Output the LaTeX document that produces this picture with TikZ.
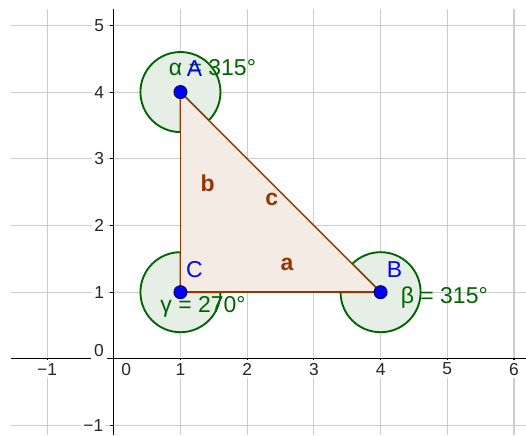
\documentclass[tikz,border=0pt]{standalone}
\usepackage{fontspec}
\setmainfont{Liberation Sans}
\usepackage{tikz}
\usepackage{xcolor}
\definecolor{anglegreen}{RGB}{0,100,0}
\definecolor{polybrown}{RGB}{153,51,0}
\definecolor{gridgray}{RGB}{204,204,204}
\tikzset{
  gridline/.style={gridgray, line width=0.45pt},
  axisline/.style={black, line width=0.45pt},
  ticklabel/.style={font=\fontsize{7.4}{8}\selectfont, text=black!85, fill=white, inner sep=1.2pt},
  anglesector/.style={draw=anglegreen, fill=anglegreen!10, line width=0.8pt},
  edge/.style={polybrown, line width=0.6pt},
  vertex/.style={circle, fill=blue, draw=blue!35!black, line width=0.4pt, inner sep=0pt, minimum size=1.95mm},
  ptlabel/.style={font=\fontsize{9.8}{11}\selectfont, text=blue, inner sep=0pt},
  anglelabel/.style={font=\fontsize{9.8}{11}\selectfont, text=anglegreen, inner sep=0pt},
  sidelabel/.style={font=\fontsize{9.8}{11}\selectfont\bfseries, text=polybrown, inner sep=0pt, anchor=base}
}

\begin{document}
\begin{tikzpicture}
\useasboundingbox (-1.705,-1.142) rectangle (6.18,5.38);
% grid and axes
\foreach \x in {-1,...,6} \draw[gridline] (\x,-1.142) -- (\x,5.245);
\foreach \y in {-1,...,5} \draw[gridline] (-1.54,\y) -- (6.18,\y);
\draw[axisline] (-1.54,0) -- (6.18,0);
\draw[axisline] (0,-1.142) -- (0,5.245);
\foreach \x in {-1,1,2,...,6} \draw[axisline] (\x,0) -- (\x,-0.06);
\foreach \y in {-1,1,2,...,5} \draw[axisline] (0,\y) -- (-0.06,\y);
\node[ticklabel] (xm1) at (-1,-0.153) {−1};
\foreach \x in {1,...,6} \node[ticklabel] (x\x) at (\x,-0.153) {\x};
\node[ticklabel] (x0) at (0.187,-0.153) {0};
\node[ticklabel] (ym1) at (-0.306,-1) {−1};
\foreach \y in {1,...,5} \node[ticklabel] (y\y) at (-0.217,\y) {\y};
\node[ticklabel] (y0) at (-0.223,0.124) {0};

\coordinate (A) at (1,4);
\coordinate (B) at (4,1);
\coordinate (C) at (1,1);

% angles
\draw[anglesector] (A) -- ++(-45:0.6) arc[start angle=-45, end angle=270, radius=0.6] -- cycle;
\draw[anglesector] (B) -- ++(180:0.6) arc[start angle=180, end angle=495, radius=0.6] -- cycle;
\draw[anglesector] (C) -- ++(90:0.6) arc[start angle=90, end angle=360, radius=0.6] -- cycle;

% triangle
\fill[polybrown!10] (A) -- (B) -- (C) -- cycle;
\draw[edge] (B) -- (C);
\draw[edge] (C) -- (A);
\draw[edge] (A) -- (B);

\node[sidelabel] (la) at (2.598,1.321) {a};
\node[sidelabel] (lb) at (1.406,2.505) {b};
\node[sidelabel] (lc) at (2.369,2.295) {c};

\node[anglelabel] (lal) at (1.48,4.363) {α = 315°};
\node[anglelabel] (lbe) at (4.955,0.915) {β = 315°};
\node[anglelabel] (lga) at (1.339,0.787) {γ = 270°};

\node[vertex] (pA) at (A) {};
\node[vertex] (pB) at (B) {};
\node[vertex] (pC) at (C) {};
\node[ptlabel] (lA) at (1.21,4.35) {A};
\node[ptlabel] (lB) at (4.21,1.339) {B};
\node[ptlabel] (lC) at (1.21,1.336) {C};
\end{tikzpicture}
\end{document}
